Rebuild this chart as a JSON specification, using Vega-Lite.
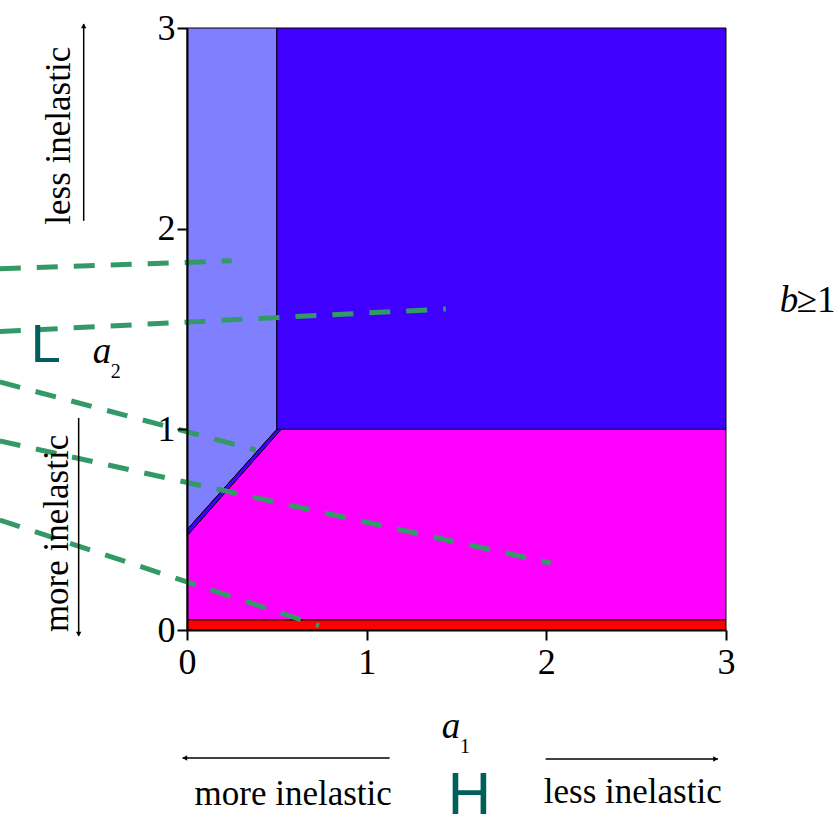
{
  "$schema": "https://vega.github.io/schema/vega-lite/v6.json",
  "width": 539,
  "height": 602,
  "autosize": {"type": "none"},
  "padding": {"left": 187, "top": 28, "right": 112, "bottom": 198},
  "background": "white",
  "config": {"view": {"stroke": null}},
  "datasets": {
    "regions": [
      {"region": "light", "x": 0, "y": 0.5, "y2": 3},
      {"region": "light", "x": 0.5, "y": 1, "y2": 3},
      {"region": "dark", "x": 0.5, "y": 1, "y2": 3},
      {"region": "dark", "x": 3, "y": 1, "y2": 3},
      {"region": "strip", "x": 0, "y": 0.469, "y2": 0.5},
      {"region": "strip", "x": 0.5, "y": 0.975, "y2": 1},
      {"region": "strip", "x": 0.525, "y": 1, "y2": 1},
      {"region": "magenta", "x": 0, "y": 0.05, "y2": 0.469},
      {"region": "magenta", "x": 0.525, "y": 0.05, "y2": 1},
      {"region": "magenta", "x": 3, "y": 0.05, "y2": 1},
      {"region": "red", "x": 0, "y": 0, "y2": 0.05},
      {"region": "red", "x": 3, "y": 0, "y2": 0.05}
    ],
    "dashes": [
      {"id": 1, "x": -1.042, "y": 1.8}, {"id": 1, "x": 0.249, "y": 1.84},
      {"id": 2, "x": -1.042, "y": 1.487}, {"id": 2, "x": 1.441, "y": 1.6},
      {"id": 3, "x": -1.042, "y": 1.236}, {"id": 3, "x": 0.383, "y": 0.897},
      {"id": 4, "x": -1.042, "y": 0.942}, {"id": 4, "x": 2.024, "y": 0.334},
      {"id": 5, "x": -1.042, "y": 0.548}, {"id": 5, "x": 0.735, "y": 0.022}
    ],
    "arrows": [
      {"x": -0.575, "x2": -0.575, "y": 2.039, "y2": 3.02},
      {"x": -0.603, "x2": -0.603, "y": -0.03, "y2": 1.057},
      {"x": -0.025, "x2": 1.128, "y": -0.638, "y2": -0.638},
      {"x": 1.996, "x2": 2.955, "y": -0.643, "y2": -0.643}
    ],
    "heads": [
      {"x": -0.575, "y": 3.01, "s": "triangle-up"},
      {"x": -0.603, "y": -0.02, "s": "triangle-down"},
      {"x": -0.012, "y": -0.638, "s": "triangle-left"},
      {"x": 2.942, "y": -0.643, "s": "triangle-right"}
    ],
    "labels": [
      {"t": "more inelastic", "x": 0.591, "y": -0.8725},
      {"t": "less inelastic", "x": 2.481, "y": -0.8625}
    ],
    "vlabels": [
      {"t": "less inelastic", "x": -0.653, "y": 2.463},
      {"t": "more inelastic", "x": -0.662, "y": 0.481}
    ],
    "italic": [
      {"t": "a", "x": -0.525, "y": 1.331},
      {"t": "a", "x": 1.418, "y": -0.538},
      {"t": "b", "x": 3.299, "y": 1.5855}
    ],
    "subs": [
      {"t": "2", "x": -0.425, "y": 1.256},
      {"t": "1", "x": 1.52, "y": -0.613}
    ],
    "geq": [
      {"t": "≥1", "x": 3.393, "y": 1.5855}
    ],
    "lh": [
      {"t": "L", "x": -0.87, "y": 1.336, "sz": 54},
      {"t": "H", "x": 1.451, "y": -0.917, "sz": 60}
    ]
  },
  "encoding": {
    "x": {
      "field": "x", "type": "quantitative",
      "scale": {"domain": [0, 3], "nice": false, "zero": false},
      "axis": {
        "title": null, "values": [0, 0.5, 1, 1.5, 2, 2.5, 3], "format": "d",
        "labelExpr": "datum.value % 1 === 0 ? datum.label : ''",
        "tickSize": {"condition": {"test": "datum.value % 1 === 0", "value": 10}, "value": 6},
        "labelFont": "Liberation Serif", "labelFontSize": 36, "labelColor": "black",
        "labelPadding": 5, "domainColor": "black", "domainWidth": 2,
        "tickColor": "black", "tickWidth": 2, "grid": false,
        "labelFlush": false, "labelOverlap": false, "labelBound": false, "zindex": 1
      }
    },
    "y": {
      "field": "y", "type": "quantitative",
      "scale": {"domain": [0, 3], "nice": false, "zero": false},
      "axis": {
        "title": null, "values": [0, 0.5, 1, 1.5, 2, 2.5, 3], "format": "d",
        "labelExpr": "datum.value % 1 === 0 ? datum.label : ''",
        "tickSize": {"condition": {"test": "datum.value % 1 === 0", "value": 10}, "value": 7},
        "labelFont": "Liberation Serif", "labelFontSize": 36, "labelColor": "black",
        "labelPadding": 2, "domainColor": "black", "domainWidth": 2,
        "tickColor": "black", "tickWidth": 2, "grid": false,
        "labelFlush": false, "labelOverlap": false, "labelBound": false, "zindex": 1
      }
    }
  },
  "layer": [
    {
      "data": {"name": "regions"},
      "mark": {"type": "area", "stroke": "black", "strokeWidth": 1, "opacity": 1, "fillOpacity": 1},
      "encoding": {
        "y": {"field": "y", "type": "quantitative", "stack": null},
        "y2": {"field": "y2"},
        "color": {
          "field": "region", "type": "nominal",
          "scale": {"domain": ["light", "dark", "strip", "magenta", "red"], "range": ["#8080FF", "#4000FF", "#4000FF", "#FF00FF", "#FF0000"]},
          "legend": null
        }
      }
    },
    {
      "data": {"name": "dashes"},
      "mark": {"type": "line", "color": "#339966", "strokeWidth": 5, "strokeDash": [21, 16], "strokeCap": "butt"},
      "encoding": {"detail": {"field": "id", "type": "nominal"}}
    },
    {
      "data": {"name": "arrows"},
      "mark": {"type": "rule", "color": "black", "strokeWidth": 1.5},
      "encoding": {"x2": {"field": "x2"}, "y2": {"field": "y2"}}
    },
    {
      "data": {"name": "heads"},
      "mark": {"type": "point", "filled": true, "color": "black", "opacity": 1, "size": 30},
      "encoding": {"shape": {"field": "s", "type": "nominal", "scale": null}}
    },
    {
      "data": {"name": "labels"},
      "mark": {"type": "text", "font": "Liberation Serif", "fontSize": 35, "align": "center", "baseline": "alphabetic", "color": "black"},
      "encoding": {"text": {"field": "t"}}
    },
    {
      "data": {"name": "vlabels"},
      "mark": {"type": "text", "font": "Liberation Serif", "fontSize": 35, "align": "center", "baseline": "alphabetic", "angle": 270, "color": "black"},
      "encoding": {"text": {"field": "t"}}
    },
    {
      "data": {"name": "italic"},
      "mark": {"type": "text", "font": "Liberation Serif", "fontSize": 37, "fontStyle": "italic", "align": "left", "baseline": "alphabetic", "color": "black"},
      "encoding": {"text": {"field": "t"}}
    },
    {
      "data": {"name": "subs"},
      "mark": {"type": "text", "font": "Liberation Serif", "fontSize": 20, "align": "left", "baseline": "alphabetic", "color": "black"},
      "encoding": {"text": {"field": "t"}}
    },
    {
      "data": {"name": "geq"},
      "mark": {"type": "text", "font": "Liberation Serif", "fontSize": 37, "align": "left", "baseline": "alphabetic", "color": "black"},
      "encoding": {"text": {"field": "t"}}
    },
    {
      "data": {"name": "lh"},
      "mark": {"type": "text", "font": "Liberation Sans", "align": "left", "baseline": "alphabetic", "color": "#005F5A"},
      "encoding": {"text": {"field": "t"}, "size": {"field": "sz", "type": "quantitative", "scale": null}}
    }
  ]
}
